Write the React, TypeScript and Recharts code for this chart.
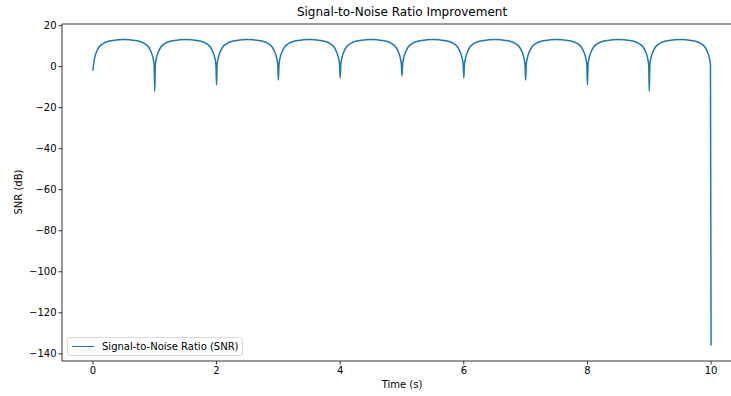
import React from "react";
import { LineChart, Line, XAxis, YAxis, ReferenceLine } from "recharts";

// sample times (s)
const time = [
  0, 0.01, 0.03, 0.06, 0.1, 0.17, 0.27, 0.4, 0.5, 0.6, 0.73, 0.83, 0.9, 0.94, 0.97, 0.99,
  1, 1.01, 1.03, 1.06, 1.1, 1.17, 1.27, 1.4, 1.5, 1.6, 1.73, 1.83, 1.9, 1.94, 1.97, 1.99,
  2, 2.01, 2.03, 2.06, 2.1, 2.17, 2.27, 2.4, 2.5, 2.6, 2.73, 2.83, 2.9, 2.94, 2.97, 2.99,
  3, 3.01, 3.03, 3.06, 3.1, 3.17, 3.27, 3.4, 3.5, 3.6, 3.73, 3.83, 3.9, 3.94, 3.97, 3.99,
  4, 4.01, 4.03, 4.06, 4.1, 4.17, 4.27, 4.4, 4.5, 4.6, 4.73, 4.83, 4.9, 4.94, 4.97, 4.99,
  5, 5.01, 5.03, 5.06, 5.1, 5.17, 5.27, 5.4, 5.5, 5.6, 5.73, 5.83, 5.9, 5.94, 5.97, 5.99,
  6, 6.01, 6.03, 6.06, 6.1, 6.17, 6.27, 6.4, 6.5, 6.6, 6.73, 6.83, 6.9, 6.94, 6.97, 6.99,
  7, 7.01, 7.03, 7.06, 7.1, 7.17, 7.27, 7.4, 7.5, 7.6, 7.73, 7.83, 7.9, 7.94, 7.97, 7.99,
  8, 8.01, 8.03, 8.06, 8.1, 8.17, 8.27, 8.4, 8.5, 8.6, 8.73, 8.83, 8.9, 8.94, 8.97, 8.99,
  9, 9.01, 9.03, 9.06, 9.1, 9.17, 9.27, 9.4, 9.5, 9.6, 9.73, 9.83, 9.9, 9.94, 9.97, 9.99,
  10,
];

// SNR in dB at those times
const snr = [
  -2, 1, 4.5, 7.3, 9.6, 11.4, 12.5, 13.1, 13.3, 13.1, 12.5, 11.4, 9.6, 7.3, 4.5, 1,
  -12, 1, 4.5, 7.3, 9.6, 11.4, 12.5, 13.1, 13.3, 13.1, 12.5, 11.4, 9.6, 7.3, 4.5, 1,
  -9, 1, 4.5, 7.3, 9.6, 11.4, 12.5, 13.1, 13.3, 13.1, 12.5, 11.4, 9.6, 7.3, 4.5, 1,
  -6.5, 1, 4.5, 7.3, 9.6, 11.4, 12.5, 13.1, 13.3, 13.1, 12.5, 11.4, 9.6, 7.3, 4.5, 1,
  -5.5, 1, 4.5, 7.3, 9.6, 11.4, 12.5, 13.1, 13.3, 13.1, 12.5, 11.4, 9.6, 7.3, 4.5, 1,
  -4.5, 1, 4.5, 7.3, 9.6, 11.4, 12.5, 13.1, 13.3, 13.1, 12.5, 11.4, 9.6, 7.3, 4.5, 1,
  -5.5, 1, 4.5, 7.3, 9.6, 11.4, 12.5, 13.1, 13.3, 13.1, 12.5, 11.4, 9.6, 7.3, 4.5, 1,
  -6.5, 1, 4.5, 7.3, 9.6, 11.4, 12.5, 13.1, 13.3, 13.1, 12.5, 11.4, 9.6, 7.3, 4.5, 1,
  -9, 1, 4.5, 7.3, 9.6, 11.4, 12.5, 13.1, 13.3, 13.1, 12.5, 11.4, 9.6, 7.3, 4.5, 1,
  -12, 1, 4.5, 7.3, 9.6, 11.4, 12.5, 13.1, 13.3, 13.1, 12.5, 11.4, 9.6, 7.3, 4.5, 1,
  -136,
];

const xTicks = [0, 2, 4, 6, 8, 10];
const yTicks = [20, 0, -20, -40, -60, -80, -100, -120, -140];

const FONT = "'DejaVu Sans', sans-serif";
const BLUE = "#1f77b4";

const data = time.map((t, i) => ({ t, snr: snr[i] }));

const minus = (v: number) => String(v).replace("-", "\u2212");

const App = () => {
  return (
    <div
      style={{
        position: "absolute",
        left: 0,
        top: 0,
        width: 731,
        height: 396,
        overflow: "hidden",
        background: "#fff",
        fontFamily: FONT,
      }}
    >
      <LineChart
        width={742}
        height={396}
        data={data}
        margin={{ top: 24, right: 0, left: 0, bottom: 0 }}
      >
        <XAxis
          dataKey="t"
          type="number"
          domain={[-0.5, 10.5]}
          ticks={xTicks}
          allowDataOverflow
          height={35}
          tickSize={3.5}
          tickMargin={2}
          stroke="#000"
          strokeWidth={0.8}
          tick={{ fill: "#000", fontSize: 10, fontFamily: FONT }}
        />
        <YAxis
          type="number"
          domain={[-143.5, 20.8]}
          ticks={yTicks}
          allowDataOverflow
          width={62}
          tickSize={3.5}
          tickMargin={2}
          stroke="#000"
          strokeWidth={0.8}
          tickFormatter={minus}
          tick={{ fill: "#000", fontSize: 10, fontFamily: FONT }}
        />
        <ReferenceLine y={20.8} stroke="#000" strokeWidth={0.8} />
        <ReferenceLine x={10.5} stroke="#000" strokeWidth={0.8} />
        <Line
          type="monotone"
          dataKey="snr"
          stroke={BLUE}
          strokeWidth={1.5}
          dot={false}
          isAnimationActive={false}
        />
      </LineChart>

      <div
        style={{
          position: "absolute",
          left: 0,
          width: 804,
          top: 5,
          textAlign: "center",
          fontSize: 12,
          color: "#000",
        }}
      >
        Signal-to-Noise Ratio Improvement
      </div>
      <div
        style={{
          position: "absolute",
          left: 0,
          width: 804,
          top: 379,
          textAlign: "center",
          fontSize: 10,
          color: "#000",
        }}
      >
        Time (s)
      </div>
      <div
        style={{
          position: "absolute",
          left: 18,
          top: 192,
          transform: "translate(-50%, -50%) rotate(-90deg)",
          fontSize: 10,
          color: "#000",
          whiteSpace: "nowrap",
        }}
      >
        SNR (dB)
      </div>

      {/* legend, lower left */}
      <div
        style={{
          position: "absolute",
          left: 67,
          top: 337,
          width: 174,
          height: 17,
          border: "1px solid #d9d9d9",
          borderRadius: 3,
          background: "rgba(255,255,255,0.8)",
          display: "flex",
          alignItems: "center",
          fontSize: 10,
          color: "#000",
        }}
      >
        <span
          style={{
            display: "inline-block",
            width: 22,
            height: 0,
            borderTop: `1.5px solid ${BLUE}`,
            marginLeft: 4,
            marginRight: 8,
          }}
        />
        Signal-to-Noise Ratio (SNR)
      </div>
    </div>
  );
};

export default App;
